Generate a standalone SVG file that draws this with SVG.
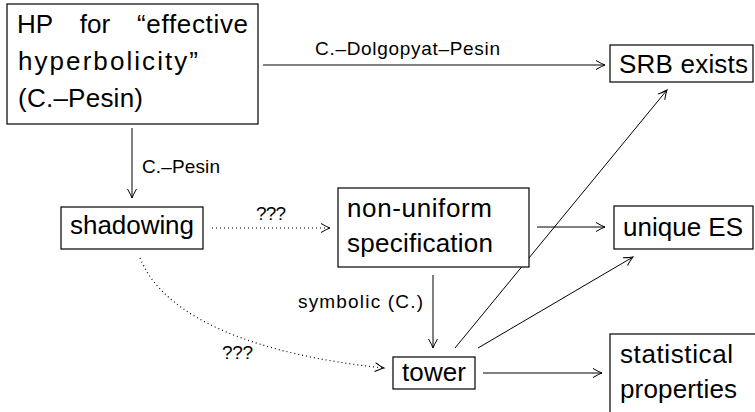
<svg xmlns="http://www.w3.org/2000/svg" width="755" height="412" viewBox="0 0 755 412">
<defs>
<style>
.box{fill:#fff;stroke:#000;stroke-width:1.2}
.t{font-family:"Liberation Sans","DejaVu Sans",sans-serif;font-size:26px;fill:#000}
.l{font-family:"Liberation Sans","DejaVu Sans",sans-serif;font-size:19px;fill:#000}
.e{fill:none;stroke:#000;stroke-width:1}
.d{fill:none;stroke:#000;stroke-width:1.2;stroke-dasharray:1 3}
</style>
<marker id="arr" markerUnits="userSpaceOnUse" markerWidth="14" markerHeight="14" viewBox="-12 -7 14 14" refX="0" refY="0" orient="auto">
<path d="M-9,-4.5 Q-3,-1 0,0 Q-3,1 -9,4.5" fill="none" stroke="#000" stroke-width="1"/>
</marker>
</defs>
<rect width="755" height="412" fill="#fff"/>
<g id="connectors">
<line class="e" x1="263" y1="65" x2="605" y2="65" marker-end="url(#arr)"/>
<text class="l" x="315" y="55" textLength="185" lengthAdjust="spacing">C.–Dolgopyat–Pesin</text>
<line class="e" x1="132" y1="128" x2="132" y2="198" marker-end="url(#arr)"/>
<text class="l" x="142" y="173" textLength="78" lengthAdjust="spacing">C.–Pesin</text>
<line class="d" x1="212" y1="228" x2="330" y2="228" marker-end="url(#arr)"/>
<text class="l" x="256" y="220" textLength="30" lengthAdjust="spacing">???</text>
<path class="d" d="M140,258 C165,320 260,355 384,368" marker-end="url(#arr)"/>
<text class="l" x="222" y="359" textLength="31" lengthAdjust="spacing">???</text>
<line class="e" x1="537" y1="227" x2="605" y2="227" marker-end="url(#arr)"/>
<line class="e" x1="433" y1="275" x2="433" y2="348" marker-end="url(#arr)"/>
<text class="l" x="298" y="308" textLength="125" lengthAdjust="spacing">symbolic (C.)</text>
<line class="e" x1="483" y1="373" x2="602" y2="373" marker-end="url(#arr)"/>
<line class="e" x1="455" y1="348" x2="667" y2="90" marker-end="url(#arr)"/>
<line class="e" x1="478" y1="348" x2="633" y2="257" marker-end="url(#arr)"/>
</g>
<g id="hp">
<rect class="box" x="7" y="4" width="251" height="120"/>
<text class="t" x="17" y="33">HP</text>
<text class="t" x="95" y="33" text-anchor="middle">for</text>
<text class="t" x="137" y="33" textLength="111" lengthAdjust="spacing">“effective</text>
<text class="t" x="18" y="70" textLength="180" lengthAdjust="spacing">hyperbolicity”</text>
<text class="t" x="18" y="107" textLength="125" lengthAdjust="spacing">(C.–Pesin)</text>
</g>
<g id="srb">
<rect class="box" x="610" y="45" width="143" height="37"/>
<text class="t" x="619" y="73" textLength="129" lengthAdjust="spacing">SRB exists</text>
</g>
<g id="shadowing">
<rect class="box" x="61" y="207" width="142" height="42"/>
<text class="t" x="70" y="234" textLength="124" lengthAdjust="spacing">shadowing</text>
</g>
<g id="nonuniform">
<rect class="box" x="338" y="188" width="191" height="79"/>
<text class="t" x="347" y="217" textLength="145" lengthAdjust="spacing">non-uniform</text>
<text class="t" x="347" y="252" textLength="146" lengthAdjust="spacing">specification</text>
</g>
<g id="unique">
<rect class="box" x="614" y="206" width="139" height="43"/>
<text class="t" x="623" y="236" textLength="120" lengthAdjust="spacing">unique ES</text>
</g>
<g id="tower">
<rect class="box" x="393" y="357" width="82" height="32"/>
<text class="t" x="402" y="381" textLength="64" lengthAdjust="spacing">tower</text>
</g>
<g id="statistical">
<rect class="box" x="610" y="334" width="160" height="100"/>
<text class="t" x="620" y="363" textLength="113" lengthAdjust="spacing">statistical</text>
<text class="t" x="620" y="398" textLength="117" lengthAdjust="spacing">properties</text>
</g>
</svg>
